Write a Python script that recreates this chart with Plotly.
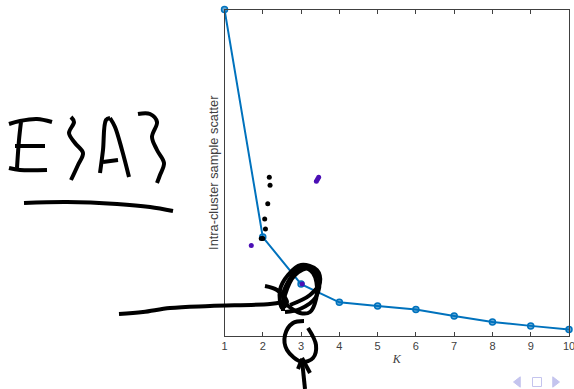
import plotly.graph_objects as go

# values
k_values = [1, 2, 3, 4, 5, 6, 7, 8, 9, 10]
scatter_values = [1.0, 0.303, 0.159, 0.103, 0.092, 0.081, 0.061, 0.043, 0.031, 0.020]

black_k = [2.17, 2.19, 2.13, 2.05, 2.07, 1.96, 2.0]
black_y = [0.486, 0.462, 0.405, 0.358, 0.328, 0.299, 0.299]
purple_k = [1.70, 3.03, 3.40, 3.43, 3.46]
purple_y = [0.277, 0.159, 0.474, 0.480, 0.486]

# handwriting, in page pixels of the slide
E_top = [(9, 124), (20, 121), (37, 119), (52, 122)]
E_stem = [(21, 122), (19, 140), (17, 168)]
E_mid = [(15, 146), (45, 146)]
E_bottom = [(9, 168), (20, 170), (47, 170)]
brace_left = [(71, 117), (74, 122), (69, 133), (75, 143), (83, 153), (78, 165), (71, 180)]
A_left = [(100, 173), (103, 150), (106, 120), (110, 118)]
A_right = [(110, 118), (115, 127), (122, 150), (129, 177)]
A_bar = [(103, 162), (118, 160)]
brace_right = [(138, 114), (150, 114), (157, 122), (152, 137), (157, 150), (164, 163), (160, 175), (157, 183)]
underline = [(24, 203), (67, 202), (117, 204), (150, 207), (173, 211)]
pointer = [(119, 314), (143, 312), (170, 308), (210, 306), (270, 304), (283, 302)]
scribble_a = [(265, 286), (277, 290), (287, 302), (282, 308), (280, 290), (288, 275), (301, 265),
              (317, 270), (320, 282), (310, 295), (290, 305)]
scribble_b = [(287, 305), (300, 313), (310, 312), (317, 293), (313, 273), (301, 267), (288, 282),
              (283, 297), (287, 307)]
scribble_c = [(283, 311), (285, 295), (295, 275), (310, 268), (319, 278), (316, 297), (300, 309), (285, 312)]
circle_three = [(304, 321), (293, 323), (285, 335), (287, 350), (302, 362), (313, 358), (316, 345), (308, 328)]
arrow_shaft = [(305, 389), (302, 360)]
arrow_left = [(302, 359), (298, 369)]
arrow_right = [(302, 358), (310, 373)]
strokes = [E_top, E_stem, E_mid, E_bottom, brace_left, A_left, A_right, A_bar, brace_right, underline,
           pointer, scribble_a, scribble_b, scribble_c, circle_three, arrow_shaft, arrow_left, arrow_right]

nav_x = [518, 537, 555]
nav_y = [382, 382, 382]
nav_symbols = ["triangle-left", "square-open", "triangle-right"]

fig = go.Figure()

fig.add_trace(go.Scatter(x=k_values, y=scatter_values, mode="lines+markers",
                         line=dict(color="#0072BD", width=2),
                         marker=dict(size=6, color="rgba(0,114,189,0.6)",
                                     line=dict(color="#0072BD", width=1.5)),
                         cliponaxis=False))
fig.add_trace(go.Scatter(x=black_k, y=black_y, mode="markers",
                         marker=dict(size=5, color="black")))
fig.add_trace(go.Scatter(x=purple_k, y=purple_y, mode="markers",
                         marker=dict(size=5, color="#4B0FB5")))

for stroke in strokes:
    fig.add_trace(go.Scatter(x=[p[0] for p in stroke], y=[p[1] for p in stroke], mode="lines",
                             line=dict(color="black", width=4, shape="spline"),
                             xaxis="x2", yaxis="y2"))

fig.add_trace(go.Scatter(x=nav_x, y=nav_y, mode="markers", xaxis="x2", yaxis="y2",
                         marker=dict(size=9, color="#C4C4EE", symbol=nav_symbols,
                                     line=dict(color="#C4C4EE", width=1))))

fig.update_layout(
    width=574, height=389, margin=dict(l=0, r=5, t=0, b=0),
    paper_bgcolor="white", plot_bgcolor="rgba(0,0,0,0)", showlegend=False,
    font=dict(family="Liberation Sans", size=11, color="#404040"),
    xaxis=dict(domain=[224.5 / 569, 1], range=[1, 10], tickvals=k_values, ticklabeloverflow="allow",
               ticks="inside", ticklen=4, tickcolor="#404040", showgrid=False, zeroline=False,
               showline=True, linecolor="#404040", linewidth=1, mirror="ticks", automargin=False,
               title=dict(text="<i>K</i>", font=dict(family="Liberation Serif", size=12), standoff=3)),
    yaxis=dict(domain=[(389 - 336) / 389, (389 - 9.5) / 389], range=[0, 1], showticklabels=False,
               ticks="", showgrid=False, zeroline=False,
               showline=True, linecolor="#404040", linewidth=1, mirror=True, automargin=False,
               title=dict(text="Intra-cluster sample scatter", font=dict(size=12.8), standoff=2)),
    xaxis2=dict(domain=[0, 1], range=[0, 569], visible=False, anchor="y2"),
    yaxis2=dict(domain=[0, 1], range=[389, 0], visible=False, anchor="x2"),
)

fig.write_html("out.html", config=dict(displayModeBar=False),
               post_script="document.body.style.margin='0';")
